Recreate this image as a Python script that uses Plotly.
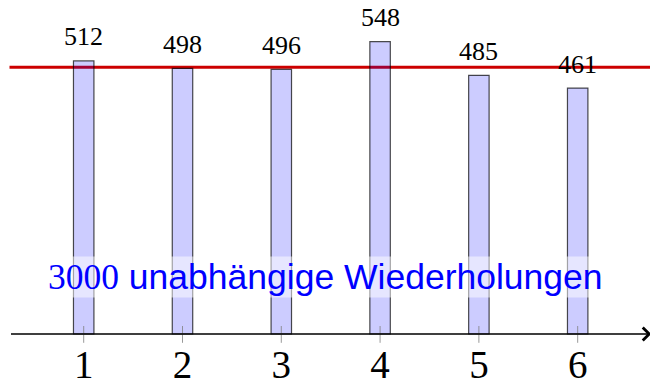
import plotly.graph_objects as go

# Augenzahlen eines Würfels und ihre absoluten Häufigkeiten
faces = [1, 2, 3, 4, 5, 6]
counts = [512, 498, 496, 548, 485, 461]
tick_labels = ["1", "2", "3", "4", "5", "6"]
n_trials = 3000
expected = n_trials / len(faces)

caption_num = str(n_trials)
caption_txt = "unabhängige Wiederholungen"

SERIF = "Liberation Serif"
SANS = "Liberation Sans"

x_range = [0.1528, 6.732]
y_range = [-105.0, 626.2]
axis_start = 0.249
axis_end = 6.745

fig = go.Figure()

fig.add_trace(go.Bar(
    x=faces,
    y=counts,
    width=0.207,
    marker=dict(
        color="rgba(0,0,255,0.2)",
        line=dict(color="rgba(0,0,0,0.7)", width=1.2),
    ),
    hoverinfo="skip",
    showlegend=False,
))

shapes = [
    # Erwartungswert als rote Linie
    dict(type="line", xref="x", yref="y", layer="below",
         x0=axis_start, x1=x_range[1] + 1, y0=expected, y1=expected,
         line=dict(color="#cc0000", width=3)),
]
# kleine graue Striche an den Augenzahlen
for f in faces:
    shapes.append(dict(type="line", xref="x", yref="y", layer="above",
                       x0=f, x1=f, y0=-16.5, y1=15,
                       line=dict(color="rgba(128,128,128,0.8)", width=1)))

annotations = [
    # Achse mit Pfeilspitze
    dict(x=axis_end, y=0, xref="x", yref="y",
         ax=axis_start, ay=0, axref="x", ayref="y",
         text="", showarrow=True, arrowhead=4, arrowsize=1.8,
         arrowwidth=1.4, arrowcolor="black", standoff=0),
]
for f, c in zip(faces, counts):
    annotations.append(dict(
        x=f, y=c, xref="x", yref="y", text=str(c), showarrow=False,
        yanchor="middle", yshift=24,
        font=dict(family=SERIF, size=26, color="black"),
    ))

annotations.append(dict(
    x=0.5015, y=0.2885, xref="paper", yref="paper",
    xanchor="center", yanchor="middle", showarrow=False,
    text=(f'<span style="font-family:Liberation Serif">{caption_num}</span> '
          f"{caption_txt}"),
    font=dict(family=SANS, size=35.5, color="#0000ff"),
    bgcolor="rgba(255,255,255,0.5)", borderpad=0,
))

fig.update_layout(
    width=650, height=390,
    margin=dict(l=0, r=0, t=0, b=0, autoexpand=False),
    paper_bgcolor="white", plot_bgcolor="white",
    shapes=shapes, annotations=annotations,
    xaxis=dict(
        range=x_range, tickvals=faces, ticktext=tick_labels,
        showgrid=False, zeroline=False, showline=False, ticks="",
        anchor="free", position=1 - 334 / 390, automargin=False,
        tickfont=dict(family=SERIF, size=39, color="black"),
        ticklabelstandoff=4,
    ),
    yaxis=dict(
        range=y_range, visible=False, showgrid=False, zeroline=False,
        automargin=False,
    ),
)

fig.write_html("out.html")
